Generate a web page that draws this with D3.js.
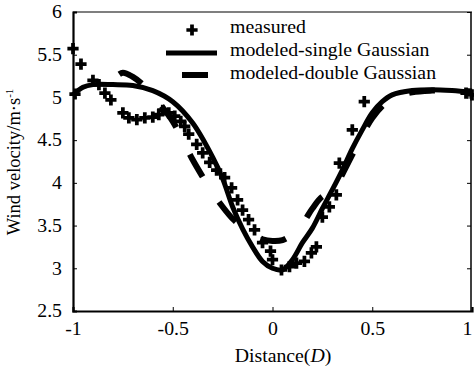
<!DOCTYPE html>
<html>
<head>
<meta charset="utf-8">
<title>Wind velocity</title>
<script src="https://d3js.org/d3.v7.min.js"></script>
<style>
	html, body {margin: 0; padding: 0; background: #fff; overflow: hidden}
	text {font-family: "Liberation Serif", "Times New Roman", serif; fill: #000}
</style>
</head>
<body>
<script>
	// measured wind velocity (distance, m/s)
	var measured = [
		[-1.00, 5.57], [-0.96, 5.39], [-0.99, 5.04], [-0.90, 5.20], [-0.87, 5.15],
		[-0.84, 5.05], [-0.81, 4.97], [-0.75, 4.82], [-0.72, 4.76], [-0.68, 4.74],
		[-0.64, 4.76], [-0.60, 4.77], [-0.57, 4.80], [-0.55, 4.85], [-0.52, 4.82],
		[-0.49, 4.78], [-0.46, 4.72], [-0.44, 4.66], [-0.42, 4.57], [-0.38, 4.45],
		[-0.35, 4.35], [-0.315, 4.24], [-0.28, 4.15], [-0.24, 4.06], [-0.205, 3.94],
		[-0.175, 3.80], [-0.15, 3.68], [-0.12, 3.57], [-0.09, 3.45], [-0.05, 3.30],
		[-0.01, 3.20], [0.00, 3.10], [0.045, 2.98], [0.085, 3.02], [0.12, 3.06],
		[0.16, 3.08], [0.195, 3.18], [0.22, 3.25], [0.25, 3.60], [0.285, 3.72],
		[0.32, 3.86], [0.335, 4.23], [0.40, 4.62], [0.46, 4.95], [0.97, 5.05],
		[1.00, 5.03]
	];

	var singleGauss = [
		[-1.00, 5.03], [-0.95, 5.12], [-0.90, 5.15], [-0.80, 5.15], [-0.70, 5.14],
		[-0.60, 5.08], [-0.50, 4.95], [-0.40, 4.70], [-0.30, 4.30], [-0.25, 4.05],
		[-0.20, 3.72], [-0.15, 3.46], [-0.10, 3.25], [-0.05, 3.08], [0.00, 3.00],
		[0.05, 2.98], [0.10, 3.10], [0.15, 3.30], [0.20, 3.47], [0.25, 3.70],
		[0.30, 3.92], [0.35, 4.15], [0.40, 4.40], [0.45, 4.62], [0.50, 4.82],
		[0.55, 4.95], [0.60, 5.03], [0.70, 5.08], [0.80, 5.09], [0.90, 5.08],
		[1.00, 5.06]
	];

	var doubleGauss = [
		[-0.78, 5.25], [-0.75, 5.29], [-0.70, 5.24], [-0.65, 5.15], [-0.60, 5.02],
		[-0.55, 4.88], [-0.50, 4.72], [-0.45, 4.50], [-0.40, 4.27], [-0.35, 4.07],
		[-0.30, 3.88], [-0.25, 3.72], [-0.20, 3.58], [-0.15, 3.48], [-0.10, 3.40],
		[-0.05, 3.34], [0.00, 3.32], [0.05, 3.33], [0.10, 3.40], [0.15, 3.52],
		[0.20, 3.70], [0.25, 3.84], [0.30, 3.88], [0.35, 4.10], [0.40, 4.33],
		[0.45, 4.56], [0.50, 4.76], [0.55, 4.90], [0.60, 4.99], [0.70, 5.06],
		[0.80, 5.08], [0.90, 5.08], [1.00, 5.07]
	];

	var xTicks = [-1, -0.5, 0, 0.5, 1];
	var yTicks = [2.5, 3, 3.5, 4, 4.5, 5, 5.5, 6];
	var legendLabels = ["measured", "modeled-single Gaussian", "modeled-double Gaussian"];

	var width = 474, height = 369;
	var margin = {left: 73, right: 2, top: 12, bottom: 58};
	var fontSize = 18, stretch = 1.1;

	var svg = d3.select("body").append("svg")
		.attr("width", width)
		.attr("height", height);

	var x = d3.scaleLinear().domain([-1, 1]).range([margin.left, width - margin.right]);
	var y = d3.scaleLinear().domain([2.5, 6]).range([height - margin.bottom, margin.top]);

	var line = d3.line()
		.x(function(d){ return x(d[0]); })
		.y(function(d){ return y(d[1]); })
		.curve(d3.curveCatmullRom);

	// frame
	svg.append("line")
		.attr("x1", x(-1)).attr("x2", x(1))
		.attr("y1", y(6)).attr("y2", y(6))
		.attr("stroke", "#000").attr("stroke-width", 1.2);
	svg.append("line")
		.attr("x1", x(1) - 1).attr("x2", x(1) - 1)
		.attr("y1", y(6)).attr("y2", y(2.5))
		.attr("stroke", "#000").attr("stroke-width", 1.5);

	var xAxis = d3.axisBottom(x).tickValues(xTicks).tickSize(-4).tickPadding(11)
		.tickFormat(function(d){ return String(d); });
	var gx = svg.append("g")
		.attr("transform", "translate(0," + y(2.5) + ")")
		.call(xAxis);
	gx.select(".domain").attr("stroke-width", 2.2);
	gx.selectAll("text")
		.attr("font-size", fontSize)
		.attr("font-family", "Liberation Serif")
		.attr("transform", "scale(" + stretch + ",1)");
	gx.selectAll(".tick").filter(function(d){ return d === 1; })
		.select("text").attr("text-anchor", "end").attr("x", 0);

	var yAxis = d3.axisLeft(y).tickValues(yTicks).tickSize(-4).tickPadding(10)
		.tickFormat(function(d){ return String(d); });
	var gy = svg.append("g")
		.attr("transform", "translate(" + x(-1) + ",0)")
		.call(yAxis);
	gy.select(".domain").attr("stroke-width", 2.2);
	gy.selectAll("text")
		.attr("font-size", fontSize)
		.attr("font-family", "Liberation Serif")
		.attr("transform", "scale(" + stretch + ",1)");

	var gr = svg.append("g")
		.attr("transform", "translate(" + (x(1) - 1) + ",0)")
		.call(d3.axisRight(y).tickValues(yTicks).tickSize(-4).tickFormat(""));
	gr.select(".domain").remove();

	// curves
	svg.append("path")
		.datum(singleGauss)
		.attr("d", line)
		.attr("fill", "none")
		.attr("stroke", "#000")
		.attr("stroke-width", 5);

	svg.append("path")
		.datum(doubleGauss)
		.attr("d", line)
		.attr("fill", "none")
		.attr("stroke", "#000")
		.attr("stroke-width", 6)
		.attr("stroke-dasharray", "26,30")
		.attr("stroke-dashoffset", -3);

	var cross = d3.symbol().type(d3.symbolCross).size(70);
	svg.append("g")
		.selectAll("path")
		.data(measured)
		.enter().append("path")
		.attr("d", cross)
		.attr("transform", function(d){ return "translate(" + x(d[0]) + "," + y(d[1]) + ")"; })
		.attr("fill", "#000");

	// legend
	var lg = svg.append("g");
	lg.append("path")
		.attr("d", cross)
		.attr("transform", "translate(192,30)")
		.attr("fill", "#000");
	lg.append("line")
		.attr("x1", 166).attr("x2", 217).attr("y1", 53).attr("y2", 53)
		.attr("stroke", "#000").attr("stroke-width", 5);
	lg.append("line")
		.attr("x1", 165).attr("x2", 217).attr("y1", 75).attr("y2", 75)
		.attr("stroke", "#000").attr("stroke-width", 6)
		.attr("stroke-dasharray", "26,30").attr("stroke-dashoffset", 39);
	lg.selectAll("g.item")
		.data(legendLabels)
		.enter().append("g")
		.attr("class", "item")
		.attr("transform", function(d, i){ return "translate(230," + (33 + i * 23) + ") scale(" + stretch + ",1)"; })
		.append("text")
		.attr("font-size", fontSize)
		.text(function(d){ return d; });

	// axis titles
	var xt = svg.append("g")
		.attr("transform", "translate(283,362) scale(" + stretch + ",1)")
		.append("text")
		.attr("text-anchor", "middle")
		.attr("font-size", fontSize);
	xt.append("tspan").text("Distance(");
	xt.append("tspan").attr("font-style", "italic").text("D");
	xt.append("tspan").text(")");

	var yt = svg.append("text")
		.attr("transform", "translate(20,162) rotate(-90)")
		.attr("text-anchor", "middle")
		.attr("font-size", 18.5);
	yt.append("tspan").text("Wind velocity/m\u00b7s");
	yt.append("tspan").attr("font-size", 11).attr("dy", -7).text("-1");
</script>
</body>
</html>
